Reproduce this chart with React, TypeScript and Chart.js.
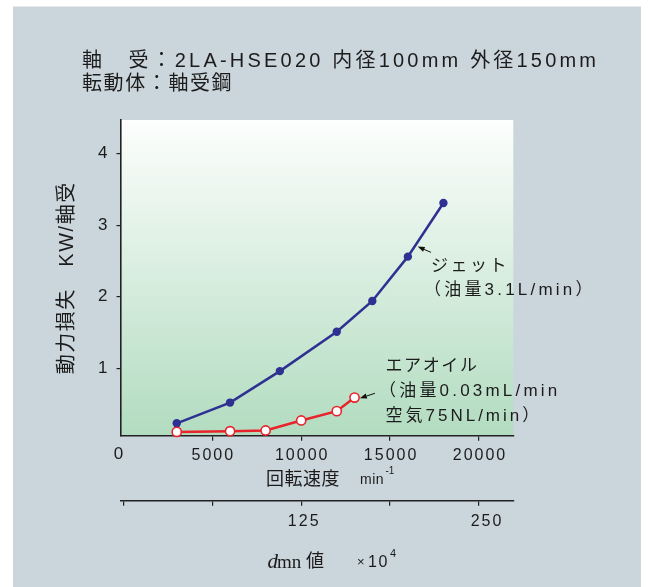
import React, { useEffect, useRef } from 'react';
import { Chart, registerables } from 'chart.js';

Chart.register(...registerables);

// ---- data ----
const jetSpeed = [3000, 6000, 8800, 12000, 14000, 16000, 18000];
const jetLoss = [0.23, 0.52, 0.96, 1.51, 1.94, 2.56, 3.31];
const airSpeed = [3000, 6000, 8000, 10000, 12000, 13000];
const airLoss = [0.11, 0.12, 0.13, 0.27, 0.4, 0.59];

const speedTicks = [5000, 10000, 15000, 20000];
const speedTickLabels = ['5000', '10000', '15000', '20000'];
const lossTicks = [1, 2, 3, 4];
const lossTickLabels = ['1', '2', '3', '4'];
const dmnTicks = [0, 62.5, 125, 187.5, 250];
const dmnTickLabels = ['', '', '125', '', '250'];

const DMN_PER_RPM = 125 / 10000; // pitch diameter 125 mm, in units of 10^4
const SPEED_MIN = -135;
const SPEED_MAX = 21930;
const LOSS_MIN = 0.057;
const LOSS_MAX = 4.47;

// annotation anchors (data coordinates)
const jetArrowTip = { x: 16550, y: 2.7 };
const jetArrowTail = { x: 17300, y: 2.62 };
const airArrowTip = { x: 13300, y: 0.58 };
const airArrowTail = { x: 14150, y: 0.65 };

const SANS = '"Liberation Sans", Arial, "Noto Sans CJK JP", sans-serif';
const SERIF = '"Liberation Serif", "Times New Roman", serif';
const TEXT = '#1c1c1c';

function txt(
  ctx: CanvasRenderingContext2D,
  s: string,
  x: number,
  y: number,
  font: string,
  spacing = 0,
  align: CanvasTextAlign = 'left',
  baseline: CanvasTextBaseline = 'alphabetic'
) {
  ctx.save();
  ctx.font = font;
  (ctx as any).letterSpacing = spacing + 'px';
  ctx.textAlign = align;
  ctx.textBaseline = baseline;
  ctx.fillStyle = TEXT;
  const dx = align === 'center' ? spacing / 2 : align === 'right' ? spacing : 0;
  ctx.fillText(s, x + dx, y);
  ctx.restore();
}

function arrow(ctx: CanvasRenderingContext2D, x1: number, y1: number, x2: number, y2: number) {
  ctx.save();
  ctx.strokeStyle = '#111';
  ctx.fillStyle = '#111';
  ctx.lineWidth = 1;
  const ang = Math.atan2(y2 - y1, x2 - x1);
  const hl = 7;
  const hw = 2.6;
  const bx = x2 - hl * Math.cos(ang);
  const by = y2 - hl * Math.sin(ang);
  ctx.beginPath();
  ctx.moveTo(x1, y1);
  ctx.lineTo(bx, by);
  ctx.stroke();
  ctx.beginPath();
  ctx.moveTo(x2, y2);
  ctx.lineTo(bx + hw * Math.sin(ang), by - hw * Math.cos(ang));
  ctx.lineTo(bx - hw * Math.sin(ang), by + hw * Math.cos(ang));
  ctx.closePath();
  ctx.fill();
  ctx.restore();
}

const backgroundPlugin = {
  id: 'bgPanel',
  beforeDraw(chart: any) {
    const ctx: CanvasRenderingContext2D = chart.ctx;
    const a = chart.chartArea;
    ctx.save();
    ctx.fillStyle = '#ffffff';
    ctx.fillRect(0, 0, chart.width, chart.height);
    ctx.fillStyle = '#cbd5dc';
    ctx.fillRect(13, 6.5, 628, chart.height - 6.5);
    const g = ctx.createLinearGradient(0, a.top, 0, a.bottom);
    g.addColorStop(0, '#fdfefd');
    g.addColorStop(1, '#b2dcc0');
    ctx.fillStyle = g;
    ctx.fillRect(a.left, a.top, a.right - a.left, a.bottom - a.top);
    ctx.restore();
  },
};

const textPlugin = {
  id: 'texts',
  afterDraw(chart: any) {
    const ctx: CanvasRenderingContext2D = chart.ctx;
    const xs = chart.scales.x;
    const x2 = chart.scales.x2;
    const ys = chart.scales.y;

    // header
    txt(ctx, '軸　受：2LA-HSE020 内径100mm 外径150mm', 82, 67, `20px ${SANS}`, 3.2);
    txt(ctx, '転動体：軸受鋼', 82, 90, `20px ${SANS}`, 1.6);

    // y tick labels
    lossTicks.forEach((v, i) => {
      txt(ctx, lossTickLabels[i], 107.5, ys.getPixelForValue(v), `17px ${SANS}`, 0, 'right', 'middle');
    });
    // x tick labels
    txt(ctx, '0', xs.getPixelForValue(0) - 5, 454.5, `17px ${SANS}`, 0, 'center', 'middle');
    speedTicks.forEach((v, i) => {
      txt(ctx, speedTickLabels[i], xs.getPixelForValue(v), 456, `16px ${SANS}`, 2, 'center', 'middle');
    });
    // dmn tick labels
    dmnTicks.forEach((v, i) => {
      const l = dmnTickLabels[i];
      if (!l) return;
      const off = v >= 250 ? 7 : 2;
      txt(ctx, l, x2.getPixelForValue(v) + off, 522, `16px ${SANS}`, 2, 'center', 'middle');
    });

    // y axis title
    ctx.save();
    ctx.translate(67, 278.5);
    ctx.rotate(-Math.PI / 2);
    txt(ctx, '動力損失　KW/軸受', 0, 0, `20px ${SANS}`, 1.5, 'center', 'middle');
    ctx.restore();

    // x axis title
    txt(ctx, '回転速度', 266, 485, `18px ${SANS}`, 0.5);
    txt(ctx, 'min', 360, 483.5, `14px ${SANS}`, 0.5);
    txt(ctx, '-1', 385.5, 474, `10px ${SANS}`, 0);

    // dmn title
    txt(ctx, 'd', 267.5, 568, `italic 21px ${SERIF}`, 0);
    txt(ctx, 'mn', 277, 568, `19px ${SERIF}`, 0);
    txt(ctx, '値', 306, 567, `18px ${SANS}`, 0);
    txt(ctx, '×', 357, 566, `13px ${SANS}`, 0);
    txt(ctx, '10', 368, 567, `16px ${SANS}`, 1.5);
    txt(ctx, '4', 390, 557, `11px ${SANS}`, 0);

    // annotations
    txt(ctx, 'ジェット', 431, 266, `17px ${SANS}`, 2.5, 'left', 'middle');
    txt(ctx, '（油量3.1L/min）', 424, 290, `17px ${SANS}`, 3.2, 'left', 'middle');
    txt(ctx, 'エアオイル', 385.5, 366, `17px ${SANS}`, 1.6, 'left', 'middle');
    txt(ctx, '（油量0.03mL/min', 379, 391.5, `17px ${SANS}`, 3.2, 'left', 'middle');
    txt(ctx, '空気75NL/min）', 385.5, 416.5, `17px ${SANS}`, 3, 'left', 'middle');

    arrow(ctx, xs.getPixelForValue(jetArrowTail.x), ys.getPixelForValue(jetArrowTail.y),
      xs.getPixelForValue(jetArrowTip.x), ys.getPixelForValue(jetArrowTip.y));
    arrow(ctx, xs.getPixelForValue(airArrowTail.x), ys.getPixelForValue(airArrowTail.y),
      xs.getPixelForValue(airArrowTip.x), ys.getPixelForValue(airArrowTip.y));
  },
};

export default function App() {
  const ref = useRef<HTMLCanvasElement | null>(null);
  useEffect(() => {
    if (!ref.current) return;
    const axisColor = '#222';
    const chart = new Chart(ref.current, {
      type: 'line',
      data: {
        datasets: [
          {
            label: 'エアオイル',
            data: airSpeed.map((x, i) => ({ x, y: airLoss[i] })),
            borderColor: '#e8232b',
            borderWidth: 2.5,
            pointRadius: 4.6,
            pointBackgroundColor: '#ffffff',
            pointBorderColor: '#e8232b',
            pointBorderWidth: 1.6,
            tension: 0,
            clip: false,
            order: 0,
          } as any,
          {
            label: 'ジェット',
            data: jetSpeed.map((x, i) => ({ x, y: jetLoss[i] })),
            borderColor: '#2e3192',
            borderWidth: 2.5,
            pointRadius: 4.2,
            pointBackgroundColor: '#2e3192',
            pointBorderColor: '#2e3192',
            pointBorderWidth: 0,
            tension: 0,
            clip: false,
            order: 1,
          } as any,
        ],
      },
      options: {
        animation: false,
        responsive: false,
        devicePixelRatio: 1,
        layout: { padding: { left: 0, top: 120, right: 135.7, bottom: 46.3 } },
        plugins: { legend: { display: false }, tooltip: { enabled: false }, title: { display: false } },
        scales: {
          x: {
            type: 'linear',
            position: 'bottom',
            weight: 0,
            min: SPEED_MIN,
            max: SPEED_MAX,
            afterBuildTicks: (s: any) => {
              s.ticks = speedTicks.map((v) => ({ value: v }));
            },
            afterFit: (s: any) => {
              s.height = 65;
            },
            ticks: { display: false },
            grid: { drawOnChartArea: false, drawTicks: true, tickLength: 5, color: axisColor, lineWidth: 1.2 },
            border: { display: true, color: axisColor, width: 1.6 },
          },
          x2: {
            type: 'linear',
            position: 'bottom',
            weight: 1,
            min: SPEED_MIN * DMN_PER_RPM,
            max: SPEED_MAX * DMN_PER_RPM,
            afterBuildTicks: (s: any) => {
              s.ticks = dmnTicks.map((v) => ({ value: v }));
            },
            afterFit: (s: any) => {
              s.height = 40;
            },
            ticks: { display: false },
            grid: { drawOnChartArea: false, drawTicks: true, tickLength: 5, color: axisColor, lineWidth: 1.2 },
            border: { display: true, color: axisColor, width: 1.4 },
          },
          y: {
            type: 'linear',
            position: 'left',
            min: LOSS_MIN,
            max: LOSS_MAX,
            afterBuildTicks: (s: any) => {
              s.ticks = lossTicks.map((v) => ({ value: v }));
            },
            afterFit: (s: any) => {
              s.width = 121;
            },
            ticks: { display: false },
            grid: { drawOnChartArea: false, drawTicks: true, tickLength: 4.5, color: axisColor, lineWidth: 1.2 },
            border: { display: true, color: axisColor, width: 1.6 },
          },
        },
      } as any,
      plugins: [backgroundPlugin, textPlugin],
    });
    return () => chart.destroy();
  }, []);
  return (
    <div style={{ position: 'absolute', left: 0, top: 0, width: 649, height: 587 }}>
      <canvas ref={ref} width={649} height={587} style={{ width: 649, height: 587, display: 'block' }} />
    </div>
  );
}
